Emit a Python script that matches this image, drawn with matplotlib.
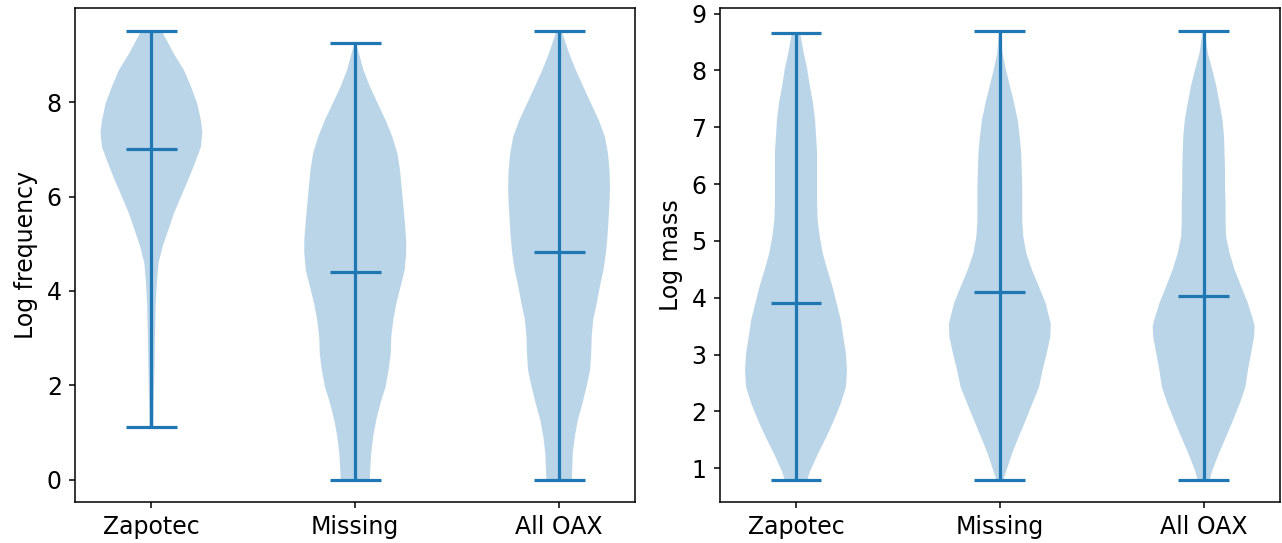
import numpy as np
import matplotlib
matplotlib.use("Agg")
import matplotlib.pyplot as plt

groups = ["Zapotec", "Missing", "All OAX"]

# log frequency: value levels and relative violin width
freq_zap_y = [1.11, 1.62, 2.33, 3.03, 3.74, 4.23, 4.59, 4.94, 5.29, 5.64, 6.0, 6.35, 6.7, 7.05, 7.37, 7.62, 7.97, 8.32, 8.68, 9.03, 9.52]
freq_zap_w = [0.04, 0.045, 0.06, 0.07, 0.085, 0.11, 0.14, 0.22, 0.33, 0.44, 0.58, 0.72, 0.85, 0.97, 1.0, 0.97, 0.9, 0.78, 0.64, 0.44, 0.2]
freq_mis_y = [0.0, 0.56, 0.92, 1.27, 1.62, 1.97, 2.33, 2.68, 3.03, 3.39, 3.74, 4.09, 4.44, 4.8, 5.08, 5.5, 5.86, 6.21, 6.56, 6.91, 7.27, 7.62, 7.97, 8.32, 8.68, 9.25]
freq_mis_w = [0.28, 0.31, 0.35, 0.41, 0.49, 0.59, 0.65, 0.69, 0.7, 0.74, 0.8, 0.88, 0.96, 0.99, 0.99, 0.96, 0.93, 0.9, 0.87, 0.82, 0.72, 0.59, 0.44, 0.29, 0.16, 0.02]
freq_all_y = [0.0, 0.56, 0.92, 1.27, 1.62, 1.97, 2.33, 2.68, 3.03, 3.39, 3.74, 4.09, 4.44, 4.8, 5.15, 5.5, 5.86, 6.21, 6.56, 6.91, 7.27, 7.62, 7.97, 8.32, 8.68, 9.03, 9.52]
freq_all_w = [0.25, 0.27, 0.31, 0.37, 0.46, 0.54, 0.61, 0.63, 0.64, 0.67, 0.74, 0.8, 0.87, 0.92, 0.95, 0.97, 0.99, 1.0, 0.99, 0.96, 0.9, 0.78, 0.63, 0.48, 0.33, 0.2, 0.05]
freq_mean = [7.0, 4.4, 4.83]

# log mass
mass_zap_y = [0.8, 0.96, 1.26, 1.55, 1.85, 2.14, 2.43, 2.55, 2.73, 3.02, 3.31, 3.61, 3.9, 4.19, 4.49, 4.78, 5.08, 5.37, 5.66, 5.96, 6.25, 6.55, 6.84, 7.13, 7.43, 7.72, 8.01, 8.31, 8.66]
mass_zap_w = [0.22, 0.28, 0.43, 0.59, 0.74, 0.87, 0.97, 0.98, 0.99, 0.97, 0.92, 0.87, 0.79, 0.71, 0.61, 0.52, 0.46, 0.42, 0.41, 0.41, 0.41, 0.41, 0.39, 0.37, 0.33, 0.27, 0.22, 0.15, 0.08]
mass_mis_y = [0.8, 0.96, 1.26, 1.55, 1.85, 2.14, 2.43, 2.73, 3.02, 3.31, 3.53, 3.61, 3.9, 4.19, 4.49, 4.78, 5.08, 5.37, 5.66, 5.96, 6.25, 6.55, 6.84, 7.13, 7.43, 7.72, 8.01, 8.31, 8.7]
mass_mis_w = [0.07, 0.13, 0.24, 0.37, 0.51, 0.64, 0.77, 0.84, 0.92, 0.99, 1.0, 0.98, 0.9, 0.77, 0.63, 0.52, 0.46, 0.44, 0.44, 0.44, 0.43, 0.42, 0.39, 0.35, 0.28, 0.2, 0.12, 0.05, 0.02]
mass_all_y = [0.8, 0.96, 1.26, 1.55, 1.85, 2.14, 2.43, 2.73, 3.02, 3.31, 3.5, 3.61, 3.9, 4.19, 4.49, 4.78, 5.08, 5.37, 5.66, 5.96, 6.25, 6.55, 6.84, 7.13, 7.43, 7.72, 8.01, 8.31, 8.7]
mass_all_w = [0.12, 0.17, 0.3, 0.44, 0.58, 0.71, 0.82, 0.87, 0.93, 0.99, 1.0, 0.97, 0.87, 0.74, 0.61, 0.51, 0.44, 0.43, 0.43, 0.42, 0.42, 0.41, 0.4, 0.37, 0.31, 0.25, 0.17, 0.08, 0.02]
mass_mean = [3.9, 4.1, 4.03]


def make_stats(ys, ws, mean):
    return {"coords": np.array(ys), "vals": np.array(ws), "mean": mean,
            "median": mean, "min": ys[0], "max": ys[-1]}


fig, (ax1, ax2) = plt.subplots(1, 2, figsize=(12.82, 5.43), dpi=100)
fig.subplots_adjust(left=0.0585, right=0.9985, top=0.985, bottom=0.0755, wspace=0.15)

stats1 = [make_stats(freq_zap_y, freq_zap_w, freq_mean[0]),
          make_stats(freq_mis_y, freq_mis_w, freq_mean[1]),
          make_stats(freq_all_y, freq_all_w, freq_mean[2])]
stats2 = [make_stats(mass_zap_y, mass_zap_w, mass_mean[0]),
          make_stats(mass_mis_y, mass_mis_w, mass_mean[1]),
          make_stats(mass_all_y, mass_all_w, mass_mean[2])]

for ax, st, lab in [(ax1, stats1, "Log frequency"), (ax2, stats2, "Log mass")]:
    parts = ax.violin(st, positions=[1, 2, 3], widths=0.5, showmeans=True)
    for key in ["cmins", "cmaxes", "cbars", "cmeans"]:
        parts[key].set_linewidth(2.3)
    ax.set_xticks([1, 2, 3])
    ax.set_xticklabels(groups)
    ax.set_ylabel(lab, fontsize=17, labelpad=6)
    ax.tick_params(labelsize=17, length=4.5, width=1.1, pad=5)
    for s in ax.spines.values():
        s.set_linewidth(1.1)

ax2.set_yticks(range(1, 10))

plt.savefig("out.png")
